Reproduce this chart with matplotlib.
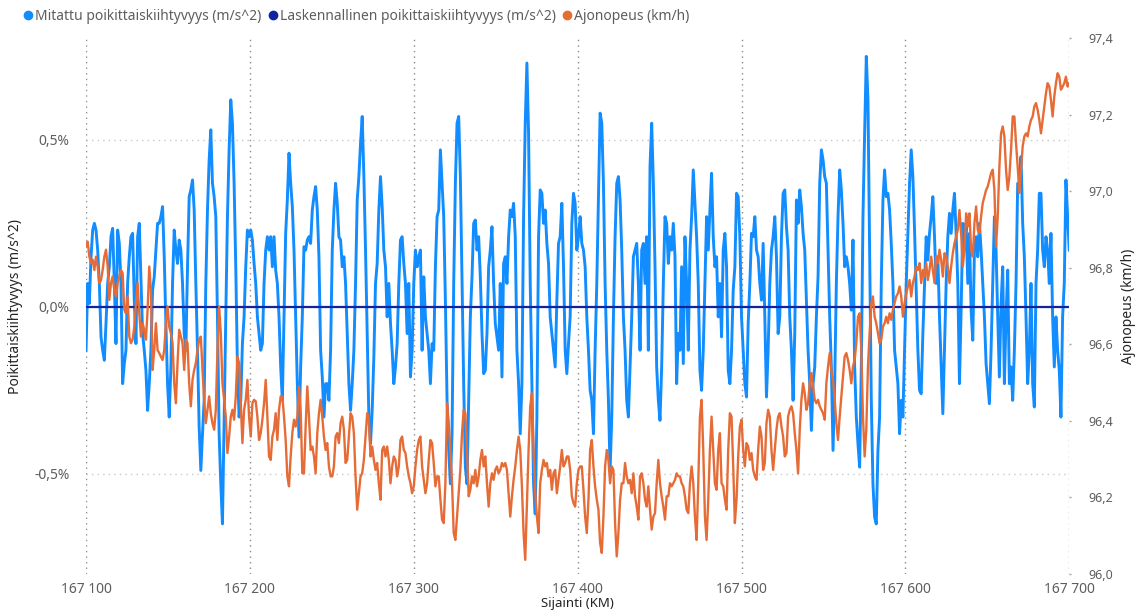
import numpy as np
import matplotlib
matplotlib.use("Agg")
import matplotlib.pyplot as plt
from matplotlib.lines import Line2D
from matplotlib.ticker import FuncFormatter, MultipleLocator

plt.rcParams['font.family'] = ['Noto Sans', 'DejaVu Sans']

# Location range (km) - samples are evenly spaced along it
km_start = 167100
km_end = 167700

# Measured lateral acceleration (shown as %), four stretches of ~150 km
blue_1 = [-0.13, 0.07, 0.01, 0.15, 0.23, 0.25, 0.23, 0.17, 0.07, -0.09,
          -0.13, -0.16, -0.05, 0.07, 0.12, 0.21, 0.235, 0.07, -0.11, 0.23,
          0.19, 0.07, -0.23, -0.17, -0.13, 0.07, 0.15, 0.21, 0.22, 0.02,
          -0.11, 0.21, 0.25, 0.09, -0.08, -0.13, -0.19, -0.31, -0.23, -0.13,
          0.05, 0.09, 0.17, 0.25, 0.25, 0.27, 0.30, 0.15, -0.05, -0.23,
          -0.33, -0.18, 0.07, 0.23, 0.17, 0.13, 0.20, 0.17, 0.07, -0.08,
          -0.13, 0.12, 0.33, 0.35, 0.38, 0.29, 0.07, -0.13, -0.36, -0.49,
          -0.38, -0.28, 0.07, 0.29, 0.44, 0.53, 0.37, 0.33, 0.27, -0.03,
          -0.38, -0.53, -0.65, -0.33, -0.03, 0.27, 0.47, 0.62, 0.55, 0.37,
          0.12, -0.18, -0.33, -0.28, -0.11, -0.03, 0.12, 0.23, 0.21, 0.23,
          0.20, 0.13, 0.07, -0.03, -0.08, -0.13, -0.11, 0.07, 0.17, 0.21,
          0.17, 0.21, 0.12, 0.21, 0.11, 0.07, -0.03, -0.18, -0.28, -0.03,
          0.22, 0.32, 0.46, 0.37, 0.30, 0.17, -0.03, -0.23, -0.39, -0.18,
          -0.03, 0.18, 0.17, 0.20, 0.21, 0.19, 0.29, 0.33, 0.36, 0.29,
          0.15, -0.13, -0.21, -0.33, -0.23, -0.23, -0.28, -0.13, 0.17]

blue_2 = [0.29, 0.37, 0.31, 0.21, 0.20, 0.12, 0.15, 0.07, -0.08, -0.23,
          -0.31, -0.23, -0.13, 0.07, 0.32, 0.39, 0.49, 0.57, 0.39, 0.17,
          -0.08, -0.33, -0.41, -0.31, -0.15, 0.07, 0.13, 0.29, 0.39, 0.30,
          0.17, 0.12, -0.03, 0.07, -0.05, -0.13, -0.23, -0.18, -0.11, 0.07,
          0.20, 0.21, 0.13, 0.07, -0.08, 0.07, -0.21, -0.13, 0.07, 0.17,
          0.12, 0.15, 0.17, -0.13, 0.09, -0.03, -0.08, -0.13, -0.23, -0.11,
          -0.13, 0.12, 0.27, 0.29, 0.47, 0.37, 0.27, 0.02, -0.28, -0.43,
          -0.53, -0.38, 0.07, 0.37, 0.55, 0.57, 0.39, 0.07, -0.23, -0.48,
          -0.53, -0.28, -0.03, 0.09, 0.25, 0.26, 0.17, 0.21, 0.09, -0.08,
          -0.20, -0.19, -0.08, 0.12, 0.17, 0.24, 0.07, -0.05, -0.09, -0.13,
          0.07, -0.21, 0.13, 0.15, 0.07, 0.21, 0.29, 0.27, 0.31, 0.21,
          -0.13, -0.23, -0.38, -0.23, 0.27, 0.55, 0.73, 0.52, 0.07, -0.23,
          -0.53, -0.62, -0.33, 0.21, 0.35, 0.34, 0.25, 0.29, 0.19, 0.13,
          -0.03, -0.08, -0.13, -0.18, 0.02, 0.19, 0.21, 0.31, 0.12, -0.13,
          -0.20, -0.11, -0.03, 0.25, 0.34, 0.31, 0.17, 0.21]

blue_3 = [0.27, 0.19, 0.17, 0.12, -0.03, -0.13, -0.25, -0.28, -0.38, -0.13,
          0.07, 0.32, 0.58, 0.55, 0.37, 0.07, -0.13, -0.28, -0.49, -0.33,
          -0.03, 0.21, 0.37, 0.39, 0.32, 0.17, -0.03, -0.13, -0.28, -0.33,
          -0.18, -0.03, 0.15, 0.17, 0.19, 0.07, -0.13, 0.17, 0.19, 0.07,
          0.21, -0.13, 0.42, 0.55, 0.37, 0.12, -0.18, -0.28, -0.34, -0.18,
          0.07, 0.27, 0.25, 0.13, 0.21, 0.17, 0.25, 0.15, -0.23, -0.08,
          -0.13, 0.12, -0.17, 0.21, 0.07, -0.13, 0.17, 0.27, 0.41, 0.31,
          0.21, 0.07, -0.19, -0.25, -0.13, 0.07, 0.27, 0.17, 0.29, 0.40,
          0.21, 0.12, 0.15, -0.03, 0.07, -0.09, 0.17, 0.22, 0.12, -0.19,
          -0.23, -0.13, 0.05, 0.12, 0.34, 0.33, 0.21, -0.03, -0.13, -0.23,
          -0.27, -0.05, 0.07, 0.22, 0.21, 0.27, 0.17, 0.15, 0.07, 0.02,
          0.19, -0.03, -0.27, -0.13, 0.07, 0.17, 0.21, 0.27, 0.15, -0.08,
          -0.03, 0.21, 0.34, 0.35, 0.24, 0.17, -0.03, -0.13, -0.28, -0.08,
          0.32, 0.25, 0.35, 0.30, 0.22, 0.17, 0.02, -0.13, -0.23, -0.37,
          -0.23, -0.18, -0.03, 0.09, 0.37, 0.47, 0.44, 0.39]

blue_4 = [0.37, 0.17, -0.03, -0.18, -0.43, -0.23, 0.07, 0.27, 0.41, 0.35,
          0.25, 0.12, 0.15, 0.12, 0.07, -0.01, 0.20, -0.18, -0.33, -0.41,
          -0.48, -0.18, 0.27, 0.52, 0.75, 0.62, 0.17, -0.28, -0.53, -0.63,
          -0.65, -0.43, -0.33, 0.07, 0.32, 0.41, 0.33, 0.34, 0.29, 0.19,
          0.07, -0.13, -0.18, -0.23, -0.38, -0.28, -0.33, -0.13, 0.07, 0.22,
          0.37, 0.47, 0.39, 0.23, 0.05, -0.13, -0.25, -0.26, -0.08, 0.07,
          0.21, 0.14, 0.22, 0.27, 0.33, 0.21, 0.07, 0.15, -0.03, -0.18,
          -0.32, -0.13, 0.07, 0.21, 0.28, 0.22, 0.29, 0.34, 0.22, 0.07,
          -0.23, -0.01, 0.25, 0.17, 0.25, 0.07, 0.22, -0.01, -0.10, 0.17,
          0.21, 0.15, 0.25, 0.17, 0.07, -0.03, -0.17, -0.23, -0.29, -0.13,
          0.07, 0.27, 0.17, -0.03, -0.21, 0.01, 0.12, -0.23, -0.03, 0.11,
          -0.23, -0.18, -0.28, -0.13, 0.07, 0.37, 0.37, 0.45, 0.25, 0.15,
          -0.03, -0.23, -0.13, 0.07, -0.23, -0.30, 0.07, 0.17, 0.34, 0.34,
          0.17, 0.12, 0.21, 0.17, 0.07, 0.22, -0.03, -0.18, -0.03, -0.13,
          -0.19, -0.33, -0.03, 0.07, 0.38, 0.27, 0.17]

# Driving speed (km/h)
speed_1 = [96.855, 96.868, 96.829, 96.812, 96.821, 96.794, 96.829, 96.803, 96.760, 96.768,
           96.794, 96.829, 96.847, 96.803, 96.716, 96.760, 96.777, 96.742, 96.725, 96.760,
           96.777, 96.794, 96.786, 96.690, 96.681, 96.725, 96.620, 96.603, 96.612, 96.646,
           96.707, 96.760, 96.681, 96.620, 96.655, 96.638, 96.612, 96.690, 96.803, 96.742,
           96.533, 96.585, 96.655, 96.585, 96.577, 96.568, 96.559, 96.585, 96.655, 96.699,
           96.646, 96.629, 96.603, 96.498, 96.446, 96.551, 96.638, 96.620, 96.603, 96.533,
           96.612, 96.603, 96.498, 96.438, 96.507, 96.533, 96.551, 96.585, 96.612, 96.620,
           96.533, 96.455, 96.394, 96.429, 96.464, 96.420, 96.394, 96.377, 96.429, 96.585,
           96.699, 96.629, 96.498, 96.455, 96.411, 96.316, 96.359, 96.411, 96.429, 96.403,
           96.464, 96.568, 96.551, 96.446, 96.342, 96.429, 96.455, 96.507, 96.411, 96.359,
           96.446, 96.455, 96.451, 96.411, 96.350, 96.368, 96.403, 96.446, 96.507, 96.411,
           96.307, 96.298, 96.359, 96.377, 96.420, 96.350, 96.429, 96.464, 96.464, 96.411,
           96.350, 96.255, 96.229, 96.307, 96.368, 96.403, 96.385, 96.411, 96.490, 96.429,
           96.263, 96.263, 96.385, 96.490, 96.411, 96.324, 96.333, 96.307, 96.263, 96.368,
           96.420, 96.455, 96.411, 96.359, 96.324, 96.342, 96.281, 96.255, 96.255]

speed_2 = [96.281, 96.359, 96.368, 96.342, 96.394, 96.411, 96.377, 96.290, 96.298, 96.359,
           96.420, 96.411, 96.368, 96.255, 96.168, 96.211, 96.255, 96.263, 96.298, 96.359,
           96.420, 96.403, 96.307, 96.333, 96.298, 96.272, 96.290, 96.237, 96.194, 96.324,
           96.333, 96.307, 96.333, 96.298, 96.237, 96.281, 96.307, 96.298, 96.255, 96.281,
           96.350, 96.359, 96.324, 96.316, 96.281, 96.255, 96.237, 96.211, 96.229, 96.281,
           96.324, 96.350, 96.359, 96.281, 96.246, 96.211, 96.237, 96.298, 96.350, 96.342,
           96.290, 96.229, 96.255, 96.255, 96.194, 96.142, 96.133, 96.237, 96.446, 96.394,
           96.324, 96.237, 96.107, 96.089, 96.150, 96.211, 96.272, 96.368, 96.429, 96.420,
           96.324, 96.203, 96.220, 96.255, 96.237, 96.272, 96.229, 96.255, 96.298, 96.324,
           96.281, 96.307, 96.237, 96.176, 96.237, 96.263, 96.246, 96.272, 96.281, 96.263,
           96.272, 96.290, 96.281, 96.290, 96.272, 96.211, 96.150, 96.203, 96.246, 96.281,
           96.324, 96.359, 96.324, 96.229, 96.107, 96.037, 96.185, 96.324, 96.438, 96.472,
           96.324, 96.211, 96.150, 96.107, 96.237, 96.272, 96.298, 96.281, 96.290, 96.255,
           96.272, 96.220, 96.263, 96.272, 96.211, 96.246, 96.281, 96.324, 96.281, 96.290,
           96.307, 96.307, 96.272, 96.203, 96.185, 96.176, 96.237, 96.272]

speed_3 = [96.281, 96.281, 96.220, 96.150, 96.107, 96.194, 96.324, 96.350, 96.281, 96.229,
           96.194, 96.168, 96.081, 96.055, 96.150, 96.281, 96.324, 96.298, 96.237, 96.281,
           96.272, 96.133, 96.046, 96.107, 96.194, 96.237, 96.237, 96.290, 96.255, 96.237,
           96.246, 96.211, 96.263, 96.203, 96.176, 96.142, 96.255, 96.263, 96.237, 96.194,
           96.176, 96.229, 96.168, 96.116, 96.150, 96.159, 96.237, 96.298, 96.237, 96.203,
           96.176, 96.142, 96.203, 96.203, 96.237, 96.229, 96.237, 96.246, 96.263, 96.255,
           96.255, 96.237, 96.229, 96.203, 96.168, 96.159, 96.237, 96.281, 96.237, 96.150,
           96.089, 96.237, 96.411, 96.455, 96.324, 96.150, 96.089, 96.194, 96.324, 96.411,
           96.324, 96.237, 96.220, 96.324, 96.368, 96.237, 96.229, 96.194, 96.168, 96.324,
           96.420, 96.411, 96.281, 96.133, 96.194, 96.307, 96.385, 96.403, 96.324, 96.281,
           96.342, 96.333, 96.298, 96.316, 96.272, 96.255, 96.246, 96.324, 96.385, 96.359,
           96.272, 96.290, 96.394, 96.429, 96.411, 96.324, 96.272, 96.324, 96.377, 96.411,
           96.420, 96.385, 96.359, 96.307, 96.316, 96.411, 96.429, 96.438, 96.420, 96.368,
           96.324, 96.263, 96.377, 96.455, 96.498, 96.472, 96.429, 96.446, 96.498, 96.525,
           96.490, 96.455, 96.446, 96.455, 96.438, 96.429, 96.420, 96.403]

speed_4 = [96.498, 96.542, 96.577, 96.533, 96.507, 96.455, 96.394, 96.350, 96.411, 96.464,
           96.516, 96.568, 96.577, 96.559, 96.533, 96.498, 96.542, 96.559, 96.603, 96.672,
           96.681, 96.585, 96.411, 96.307, 96.377, 96.542, 96.629, 96.707, 96.725, 96.672,
           96.655, 96.629, 96.603, 96.612, 96.646, 96.655, 96.672, 96.655, 96.681, 96.664,
           96.690, 96.707, 96.725, 96.733, 96.751, 96.725, 96.672, 96.707, 96.733, 96.751,
           96.768, 96.725, 96.760, 96.777, 96.803, 96.794, 96.812, 96.760, 96.794, 96.777,
           96.812, 96.768, 96.794, 96.829, 96.794, 96.760, 96.829, 96.812, 96.847, 96.821,
           96.777, 96.838, 96.829, 96.803, 96.760, 96.803, 96.838, 96.864, 96.881, 96.899,
           96.951, 96.890, 96.803, 96.847, 96.942, 96.908, 96.942, 96.847, 96.829, 96.916,
           96.960, 96.899, 96.890, 96.934, 96.969, 96.986, 97.003, 97.012, 97.030, 97.047,
           97.056, 97.003, 96.855, 96.934, 97.064, 97.151, 97.169, 97.143, 97.056, 97.003,
           97.038, 97.108, 97.195, 97.195, 97.125, 97.064, 96.995, 97.056, 97.117, 97.143,
           97.151, 97.143, 97.169, 97.186, 97.195, 97.221, 97.230, 97.212, 97.186, 97.151,
           97.186, 97.221, 97.256, 97.282, 97.273, 97.238, 97.195, 97.247, 97.282, 97.308,
           97.299, 97.265, 97.273, 97.282, 97.299, 97.273, 97.282]

measured = blue_1 + blue_2 + blue_3 + blue_4
speed = speed_1 + speed_2 + speed_3 + speed_4
km_measured = np.linspace(km_start, km_end, len(measured))
km_speed = np.linspace(km_start, km_end, len(speed))
calculated = [0.0, 0.0]
km_calculated = [km_start, km_end]

legend_labels = ["Mitattu poikittaiskiihtyvyys (m/s^2)",
                 "Laskennallinen poikittaiskiihtyvyys (m/s^2)",
                 "Ajonopeus (km/h)"]
colors = ["#118DFF", "#12239E", "#E66C37"]
grey = "#605E5C"

fig = plt.figure(figsize=(11.38, 6.10), dpi=100)
ax = fig.add_axes([0.0756, 0.059, 0.864, 0.8787])
ax2 = ax.twinx()

ax.plot(km_measured, measured, color=colors[0], lw=2.1, zorder=2)
ax.plot(km_calculated, calculated, color=colors[1], lw=1.6, zorder=3)
ax2.plot(km_speed, speed, color=colors[2], lw=1.7, zorder=4)

ax.set_xlim(km_start, km_end)
ax.set_ylim(-0.8, 0.805)
ax2.set_ylim(96.0, 97.4)

ax.xaxis.set_major_locator(MultipleLocator(100))
ax.yaxis.set_major_locator(MultipleLocator(0.5))
ax2.yaxis.set_major_locator(MultipleLocator(0.2))

ax.xaxis.set_major_formatter(FuncFormatter(lambda v, p: f"{int(v):,}".replace(",", " ")))
ax.yaxis.set_major_formatter(FuncFormatter(lambda v, p: f"{v:.1f}%".replace(".", ",").replace("-0,0", "0,0")))
ax2.yaxis.set_major_formatter(FuncFormatter(lambda v, p: f"{v:.1f}".replace(".", ",")))

ax.grid(axis="y", color="#C8C8C8", linestyle=(0, (1, 3)), lw=1.0)
ax.grid(axis="x", color="#8A8A8A", linestyle=(0, (1, 3)), lw=1.0)
ax.set_axisbelow(True)

for a in (ax, ax2):
    for s in a.spines.values():
        s.set_visible(False)

ax.tick_params(axis="x", length=0, pad=6, labelsize=10, labelcolor=grey)
ax.tick_params(axis="y", length=0, pad=12, labelsize=10, labelcolor=grey)
ax2.tick_params(axis="y", length=1.5, width=1.0, color="#A0A0A0", pad=12, labelsize=9, labelcolor=grey)

ax.set_ylabel("Poikittaiskiihtyvyys (m/s^2)", fontsize=10, color="#252423", labelpad=8)
ax2.set_ylabel("Ajonopeus (km/h)", fontsize=10, color="#252423", rotation=90, labelpad=6)
ax.set_xlabel("Sijainti (KM)", fontsize=9.5, color="#252423", labelpad=0)

handles = [Line2D([], [], marker="o", color=c, linestyle="none", markersize=6) for c in colors]
fig.legend(handles, legend_labels, loc="upper left", bbox_to_anchor=(0.014, 0.995), ncol=3,
           frameon=False, handletextpad=0.0, columnspacing=0.3, handlelength=1.0,
           borderaxespad=0, labelcolor=grey, fontsize=10)

fig.savefig("out.png", dpi=100)
